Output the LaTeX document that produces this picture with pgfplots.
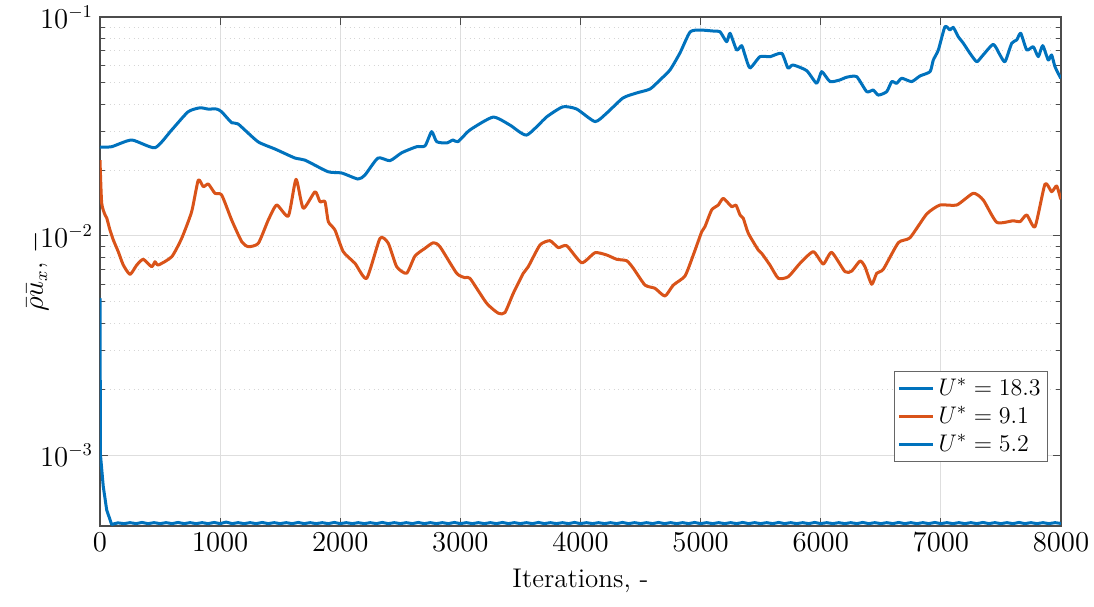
\documentclass[border=0pt]{standalone}
\usepackage{pgfplots}
\pgfplotsset{compat=1.18}
\definecolor{mblue}{rgb}{0,0.447,0.741}
\definecolor{morange}{rgb}{0.85,0.325,0.098}
\begin{document}
\begin{tikzpicture}
\useasboundingbox (-50pt,-40pt) rectangle (497pt,263pt);
\begin{axis}[
  at={(0,0)}, anchor=south west, scale only axis,
  width=480.5pt, height=254.5pt,
  ymode=log, xmin=0, xmax=8000, ymin=4.74e-4, ymax=0.1,
  xtick={0,1000,...,8000}, ytick={1e-3,1e-2,1e-1},
  scaled x ticks=false,
  xticklabel style={/pgf/number format/1000 sep={}},
  tick align=inside, xtick pos=both, ytick pos=both,
  major tick length=4pt, minor tick length=2.5pt,
  xmajorgrids, ymajorgrids, yminorgrids,
  major grid style={black!13, line width=0.5pt},
  minor grid style={black!16, dotted, line width=0.5pt},
  axis line style={black!70, line width=0.6pt},
  tick style={black!70, line width=0.5pt},
  font=\fontsize{13.5}{16}\selectfont,
  xlabel={Iterations, -},
  ylabel={$\bar{\rho}\bar{u}_x$, $-$},
  xlabel style={yshift=-2pt},
  ylabel style={yshift=-11pt},
  legend style={at={(0.9865,0.1257)}, anchor=south east, draw=black!60,
    font=\fontsize{12.5}{15}\selectfont, inner sep=1.5pt, row sep=0pt},
  legend cell align=left,
  every axis plot/.append style={line width=1.5pt, line join=round},
]
\addplot[mblue, smooth, tension=0.35] coordinates {
(0,0.02549) (97,0.02557) (264,0.02744) (458,0.0253) (597,0.0305) (733,0.0369)
(832,0.0385) (899,0.0380) (971,0.0380) (1013,0.0369) (1096,0.0329) (1149,0.0325)
(1315,0.02695) (1457,0.02496) (1623,0.0227) (1707,0.0222) (1898,0.01966) (2012,0.0194)
(2148,0.0182) (2206,0.0190) (2314,0.0227) (2414,0.02207) (2512,0.0240) (2636,0.02557)
(2706,0.0258) (2761,0.02995) (2803,0.02695) (2886,0.0266) (2939,0.02744) (2980,0.02695)
(3080,0.0305) (3272,0.0349) (3413,0.0321) (3552,0.0289) (3719,0.0350) (3854,0.0389)
(3968,0.0380) (4121,0.0333) (4218,0.0364) (4354,0.0427) (4468,0.0450) (4579,0.0469)
(4662,0.0516) (4745,0.0573) (4828,0.0685) (4912,0.0854) (4995,0.0872) (5103,0.0863)
(5161,0.0857) (5217,0.0771) (5245,0.0843) (5300,0.0707) (5342,0.0740) (5369,0.0671)
(5411,0.0585) (5494,0.0659) (5578,0.0659) (5675,0.0683) (5727,0.0585) (5769,0.0604)
(5883,0.0569) (5966,0.0498) (6008,0.0563) (6077,0.0507) (6160,0.0516) (6216,0.0531)
(6299,0.0534) (6383,0.0456) (6437,0.0464) (6479,0.0440) (6549,0.0456) (6591,0.0507)
(6632,0.0498) (6674,0.0525) (6757,0.0507) (6826,0.0538) (6910,0.0563) (6937,0.0636)
(6979,0.0707) (7034,0.0903) (7076,0.0872) (7103,0.0897) (7145,0.0813) (7187,0.0759)
(7242,0.0683) (7298,0.0625) (7340,0.0659) (7436,0.0750) (7492,0.0671) (7534,0.0625)
(7590,0.0759) (7631,0.0785) (7665,0.0843) (7715,0.0707) (7769,0.0732) (7811,0.0659)
(7848,0.0740) (7894,0.0636) (7922,0.0671) (7950,0.0593) (7998,0.0525)
};
\addlegendentry{$U^{*}=18.3$}
\addplot[morange, smooth, tension=0.35] coordinates {
(0,0.0222) (14,0.01415) (42,0.01248) (56,0.01209) (83,0.01065) (111,0.00959)
(152,0.00848) (194,0.00737) (250,0.00668) (306,0.00737) (360,0.00783) (430,0.00724)
(458,0.00763) (485,0.00737) (597,0.00804) (680,0.00976) (763,0.01291) (818,0.0180)
(860,0.0168) (902,0.01727) (957,0.01567) (1013,0.01539) (1096,0.01183) (1180,0.00942)
(1235,0.00894) (1318,0.00926) (1401,0.01183) (1471,0.01385) (1568,0.01234) (1632,0.01815)
(1692,0.01338) (1790,0.01593) (1831,0.01434) (1873,0.01434) (1901,0.01162) (1956,0.01065)
(2025,0.00848) (2123,0.0075) (2220,0.00641) (2331,0.00976) (2400,0.00926) (2470,0.00724)
(2553,0.00676) (2622,0.0081) (2706,0.00879) (2775,0.00932) (2830,0.00894) (2969,0.00676)
(3039,0.00645) (3080,0.00641) (3219,0.00493) (3316,0.00444) (3371,0.00447) (3441,0.00548)
(3524,0.00676) (3565,0.00724) (3663,0.0091) (3746,0.00952) (3815,0.00885) (3885,0.00903)
(4010,0.00755) (4121,0.00839) (4218,0.00819) (4301,0.00783) (4385,0.00771) (4440,0.00712)
(4537,0.00597) (4620,0.00577) (4703,0.00532) (4773,0.00597) (4870,0.00657) (4939,0.00819)
(5009,0.01046) (5036,0.01103) (5092,0.01315) (5147,0.01385) (5189,0.01486) (5259,0.0136)
(5294,0.01385) (5328,0.01248) (5355,0.01205) (5397,0.01029) (5480,0.00863) (5508,0.00834)
(5577,0.00737) (5647,0.00641) (5730,0.00652) (5827,0.0075) (5938,0.00848) (6021,0.00745)
(6091,0.00842) (6202,0.00687) (6258,0.00692) (6327,0.00769) (6368,0.00724) (6424,0.00602)
(6466,0.00676) (6521,0.00705) (6646,0.00932) (6743,0.00982) (6882,0.0126) (6993,0.01385)
(7132,0.01385) (7270,0.01567) (7353,0.0146) (7465,0.01155) (7603,0.01174) (7659,0.01162)
(7715,0.01248) (7784,0.01103) (7867,0.01727) (7922,0.01593) (7964,0.01692) (7998,0.01471)
};
\addlegendentry{$U^{*}=9.1$}
\addplot[mblue] coordinates {
(0,0.0052) (4,0.00100) (27,0.00072) (56,0.00056) (97,0.000482)
(150,0.000490) (200,0.000486) (250,0.000491) (300,0.000486) (350,0.000492) (400,0.000486)
(450,0.000491) (500,0.000486) (550,0.000491) (600,0.000486) (650,0.000492) (700,0.000486)
(750,0.000491) (800,0.000486) (850,0.000491) (900,0.000486) (950,0.000492) (1000,0.000486)
(1050,0.000494) (1100,0.000486) (1150,0.000491) (1200,0.000486) (1250,0.000491) (1300,0.000486)
(1350,0.000492) (1400,0.000486) (1450,0.000491) (1500,0.000486) (1550,0.000491) (1600,0.000486)
(1650,0.000492) (1700,0.000486) (1750,0.000491) (1800,0.000486) (1850,0.000491) (1900,0.000486)
(1950,0.000492) (2000,0.000486) (2050,0.000491) (2100,0.000486) (2150,0.000491) (2200,0.000486)
(2250,0.000491) (2300,0.000486) (2350,0.000492) (2400,0.000486) (2450,0.000491) (2500,0.000486)
(2550,0.000491) (2600,0.000486) (2650,0.000492) (2700,0.000486) (2750,0.000491) (2800,0.000486)
(2850,0.000491) (2900,0.000486) (2950,0.000492) (3000,0.000486) (3050,0.000491) (3100,0.000486)
(3150,0.000491) (3200,0.000486) (3250,0.000491) (3300,0.000486) (3350,0.000492) (3400,0.000486)
(3450,0.000491) (3500,0.000486) (3550,0.000491) (3600,0.000486) (3650,0.000492) (3700,0.000486)
(3750,0.000491) (3800,0.000486) (3850,0.000491) (3900,0.000486) (3950,0.000492) (4000,0.000486)
(4050,0.000491) (4100,0.000486) (4150,0.000491) (4200,0.000486) (4250,0.000491) (4300,0.000486)
(4350,0.000492) (4400,0.000486) (4450,0.000491) (4500,0.000486) (4550,0.000491) (4600,0.000486)
(4650,0.000492) (4700,0.000486) (4750,0.000491) (4800,0.000486) (4850,0.000491) (4900,0.000486)
(4950,0.000492) (5000,0.000486) (5050,0.000491) (5100,0.000486) (5150,0.000491) (5200,0.000486)
(5250,0.000491) (5300,0.000486) (5350,0.000492) (5400,0.000486) (5450,0.000491) (5500,0.000486)
(5550,0.000491) (5600,0.000486) (5650,0.000492) (5700,0.000486) (5750,0.000491) (5800,0.000486)
(5850,0.000491) (5900,0.000486) (5950,0.000492) (6000,0.000486) (6050,0.000491) (6100,0.000486)
(6150,0.000491) (6200,0.000486) (6250,0.000491) (6300,0.000486) (6350,0.000492) (6400,0.000486)
(6450,0.000491) (6500,0.000486) (6550,0.000491) (6600,0.000486) (6650,0.000492) (6700,0.000486)
(6750,0.000491) (6800,0.000486) (6850,0.000491) (6900,0.000486) (6950,0.000492) (7000,0.000486)
(7050,0.000491) (7100,0.000486) (7150,0.000491) (7200,0.000486) (7250,0.000491) (7300,0.000486)
(7350,0.000492) (7400,0.000486) (7450,0.000491) (7500,0.000486) (7550,0.000491) (7600,0.000486)
(7650,0.000492) (7700,0.000486) (7750,0.000491) (7800,0.000486) (7850,0.000491) (7900,0.000486)
(7950,0.000491) (8000,0.000487)
};
\addlegendentry{$U^{*}=5.2$}
\end{axis}
\end{tikzpicture}
\end{document}
